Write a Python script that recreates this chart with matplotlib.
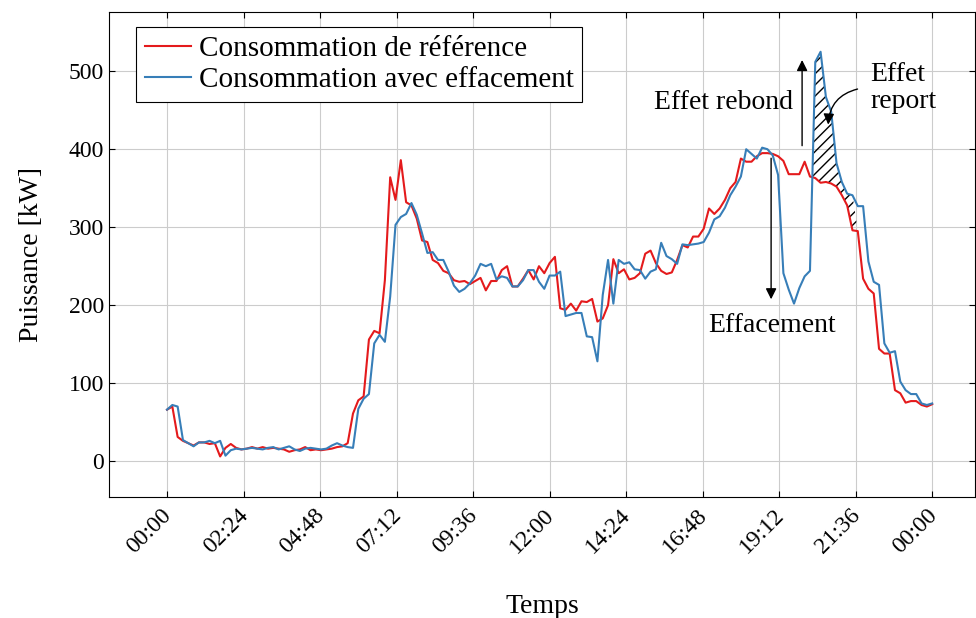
import matplotlib.pyplot as plt
import matplotlib.transforms as mtransforms
import numpy as np

# one sample every 10 minutes over 24 h (145 points, 00:00 -> 00:00)
minutes = np.arange(0, 1441, 10)

conso_ref = [
    66, 70, 31, 26, 23, 20, 24, 24, 22, 23, 6, 17, 22, 17, 15, 16, 18, 16, 18, 16,
    17, 16, 15, 12, 14, 15, 18, 14, 15, 14, 15, 16, 18, 19, 23, 61, 78, 83, 156, 167,
    164, 232, 364, 335, 386, 332, 328, 311, 283, 281, 258, 254, 244, 241, 232, 230, 231, 227, 231, 235,
    219, 231, 231, 245, 250, 224, 224, 234, 245, 233, 250, 241, 254, 262, 196, 194, 202, 193, 205, 204,
    208, 179, 183, 200, 259, 241, 246, 233, 235, 241, 266, 270, 254, 244, 240, 242, 258, 277, 274, 288,
    288, 298, 324, 317, 324, 335, 350, 358, 388, 384, 384, 391, 395, 395, 394, 391, 385, 368, 368, 368,
    384, 365, 363, 357, 358, 356, 352, 341, 328, 296, 295, 234, 221, 215, 144, 138, 138, 91, 87, 75,
    77, 77, 72, 70, 73,
]

conso_eff = [
    66, 72, 70, 27, 23, 19, 24, 24, 26, 23, 26, 7, 14, 16, 15, 16, 17, 16, 15, 17,
    18, 15, 17, 19, 15, 13, 16, 17, 16, 15, 16, 20, 23, 20, 18, 17, 67, 80, 86, 151,
    162, 153, 211, 303, 313, 317, 331, 316, 292, 267, 268, 258, 258, 243, 225, 217, 221, 228, 238, 253,
    250, 253, 233, 237, 235, 224, 224, 232, 245, 245, 230, 221, 238, 238, 243, 186, 188, 190, 190, 160,
    159, 128, 213, 258, 202, 258, 253, 255, 246, 245, 234, 243, 246, 280, 263, 259, 253, 278, 277, 278,
    279, 281, 293, 310, 314, 325, 341, 352, 365, 400, 394, 388, 402, 400, 392, 367, 241, 220, 202, 222,
    237, 244, 512, 525, 467, 448, 382, 358, 343, 341, 327, 327, 256, 230, 226, 151, 139, 141, 102, 91,
    86, 86, 74, 72, 74,
]

tick_labels = ["00:00", "02:24", "04:48", "07:12", "09:36", "12:00",
               "14:24", "16:48", "19:12", "21:36", "00:00"]
y_ticks = [0, 100, 200, 300, 400, 500]

# report window (hatched area) in minutes
report_start, report_end = 1210, 1290

RED = "#e41a1c"
BLUE = "#377eb8"
FS = 20

plt.rcParams["font.family"] = ["Liberation Serif", "DejaVu Serif"]

t = minutes / 1440.0
ref = np.array(conso_ref, dtype=float)
eff = np.array(conso_eff, dtype=float)

fig = plt.figure(figsize=(9.76, 6.18), dpi=100)
ax = fig.add_axes([0.1117, 0.1958, 0.8873, 0.7848])

ax.plot(t, ref, color=RED, lw=1.5, label="Consommation de référence", zorder=3)
ax.plot(t, eff, color=BLUE, lw=1.5, label="Consommation avec effacement", zorder=3)

mask = (minutes >= report_start) & (minutes <= report_end) & (eff > ref)
ax.fill_between(t, ref, eff, where=mask, interpolate=True, facecolor="none",
                edgecolor="black", hatch="///", linewidth=0, zorder=2)

# annotations
arrow = dict(arrowstyle="-|>", color="black", lw=1, mutation_scale=16)
ax.annotate("", xy=(0.830, 518), xytext=(0.830, 401), arrowprops=arrow)
ax.annotate("", xy=(0.7895, 204), xytext=(0.7895, 392), arrowprops=arrow)
ax.text(0.818, 460, "Effet rebond", ha="right", va="center", fontsize=FS)
ax.text(0.791, 174, "Effacement", ha="center", va="center", fontsize=FS)
ax.text(0.919, 478, "Effet\nreport", ha="left", va="center", fontsize=FS, linespacing=1.1)
ax.annotate("", xy=(0.864, 428), xytext=(0.906, 478),
            arrowprops=dict(arrow, connectionstyle="arc3,rad=0.4"))

ax.set_xlim(-0.0758, 1.056)
ax.set_ylim(-46, 576)
ax.set_xticks(np.arange(len(tick_labels)) / 10.0)
ax.set_xticklabels(tick_labels, rotation=45, ha="right", va="top", rotation_mode="anchor")
ax.set_yticks(y_ticks)
ax.tick_params(axis="both", direction="in", labelsize=17, length=4, top=True, right=True)
# nudge rotated labels a little left/down like the original
shift = mtransforms.ScaledTranslation(-6 / 100, -3 / 100, fig.dpi_scale_trans)
for lab in ax.get_xticklabels():
    lab.set_transform(lab.get_transform() + shift)

ax.grid(True, color="#cccccc", lw=0.8)
ax.set_axisbelow(True)
for sp in ax.spines.values():
    sp.set_color("black")
    sp.set_linewidth(0.8)

ax.set_xlabel("Temps", fontsize=FS, labelpad=26)
ax.set_ylabel("Puissance [kW]", fontsize=FS, labelpad=18)

leg = ax.legend(loc="upper left", bbox_to_anchor=(0.031, 0.969), fontsize=21,
                fancybox=False, edgecolor="black", framealpha=1, borderaxespad=0,
                handlelength=1.6, handletextpad=0.25, labelspacing=0.15, borderpad=0.3)
leg.get_frame().set_linewidth(0.8)

plt.savefig("out.png", dpi=100)
plt.close()
